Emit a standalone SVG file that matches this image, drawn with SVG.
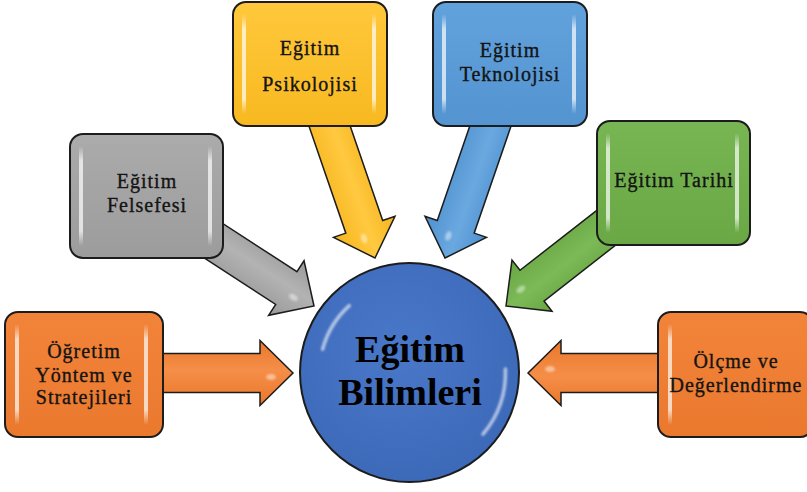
<svg xmlns="http://www.w3.org/2000/svg" xmlns:xlink="http://www.w3.org/1999/xlink" width="807" height="492" viewBox="0 0 807 492">
<defs>
<style>
.box{stroke:#1c1c1c;stroke-width:2}
.hl{fill:url(#hlg)}
.t{font-family:"Liberation Serif","Times New Roman",serif;font-size:20px;letter-spacing:1px;fill:#141414;stroke:#141414;stroke-width:.35;text-anchor:middle}
.big{font-family:"Liberation Serif","Times New Roman",serif;font-size:38px;font-weight:bold;fill:#000;text-anchor:middle}
.arr{stroke:#1c1c1c;stroke-width:1.5;stroke-linejoin:miter}
.gl{fill:none;stroke:#fff;stroke-opacity:.6;stroke-width:3.5;stroke-linecap:round;filter:url(#soft)}
</style>
<filter id="soft" x="-20%" y="-20%" width="140%" height="140%"><feGaussianBlur stdDeviation="0.8"/></filter>
<linearGradient id="hlg" x1="0" y1="0" x2="0" y2="1">
<stop offset="0" stop-color="#fff" stop-opacity="0"/>
<stop offset=".15" stop-color="#fff" stop-opacity=".7"/>
<stop offset=".85" stop-color="#fff" stop-opacity=".7"/>
<stop offset="1" stop-color="#fff" stop-opacity="0"/>
</linearGradient>
<linearGradient id="bY" x1="0" y1="0" x2="0" y2="1"><stop offset="0" stop-color="#FFC83C"/><stop offset="1" stop-color="#F8B920"/></linearGradient>
<linearGradient id="bG" x1="0" y1="0" x2="0" y2="1"><stop offset="0" stop-color="#ABABAB"/><stop offset="1" stop-color="#9C9C9C"/></linearGradient>
<linearGradient id="bB" x1="0" y1="0" x2="0" y2="1"><stop offset="0" stop-color="#62A2DC"/><stop offset="1" stop-color="#5394D1"/></linearGradient>
<linearGradient id="bN" x1="0" y1="0" x2="0" y2="1"><stop offset="0" stop-color="#78B553"/><stop offset="1" stop-color="#69A844"/></linearGradient>
<linearGradient id="bO" x1="0" y1="0" x2="0" y2="1"><stop offset="0" stop-color="#F2843A"/><stop offset="1" stop-color="#EA792E"/></linearGradient>
<linearGradient id="aY" x1="0" y1="0" x2="0" y2="1"><stop offset="0" stop-color="#F6B41C"/><stop offset=".45" stop-color="#FFC940"/><stop offset="1" stop-color="#F6B41C"/></linearGradient>
<linearGradient id="aG" x1="0" y1="0" x2="0" y2="1"><stop offset="0" stop-color="#999"/><stop offset=".45" stop-color="#B3B3B3"/><stop offset="1" stop-color="#999"/></linearGradient>
<linearGradient id="aB" x1="0" y1="0" x2="0" y2="1"><stop offset="0" stop-color="#4E90CE"/><stop offset=".45" stop-color="#6AA8E0"/><stop offset="1" stop-color="#4E90CE"/></linearGradient>
<linearGradient id="aN" x1="0" y1="0" x2="0" y2="1"><stop offset="0" stop-color="#66A642"/><stop offset=".45" stop-color="#7CBA58"/><stop offset="1" stop-color="#66A642"/></linearGradient>
<linearGradient id="aO" x1="0" y1="0" x2="0" y2="1"><stop offset="0" stop-color="#EA772B"/><stop offset=".45" stop-color="#F58E48"/><stop offset="1" stop-color="#EA772B"/></linearGradient>
<radialGradient id="cB" cx=".45" cy=".4" r=".6"><stop offset="0" stop-color="#4A78C8"/><stop offset="1" stop-color="#3D69B9"/></radialGradient>
<g id="arrow">
<path class="arr" d="M0,0 L-33,-32.5 L-33,-19.5 L-150,-19.5 L-150,19.5 L-33,19.5 L-33,32.5 Z"/>
<ellipse cx="-22" cy="4" rx="5" ry="3" fill="#fff" fill-opacity=".45" filter="url(#soft)"/>
</g>
</defs>
<rect width="807" height="492" fill="#fff"/>
<g id="connectors">
<use xlink:href="#arrow" fill="url(#aY)" transform="translate(375,258) rotate(71)"/>
<use xlink:href="#arrow" fill="url(#aB)" transform="translate(445,258) rotate(109)"/>
<use xlink:href="#arrow" fill="url(#aG)" transform="translate(314,306) rotate(33)"/>
<use xlink:href="#arrow" fill="url(#aN)" transform="translate(506,306) rotate(142)"/>
<use xlink:href="#arrow" fill="url(#aO)" transform="translate(293,373)"/>
<use xlink:href="#arrow" fill="url(#aO)" transform="translate(528,373) rotate(180)"/>
</g>
<g id="psikoloji">
<rect class="box" x="233" y="2" width="154" height="124" rx="13" fill="url(#bY)"/>
<rect class="hl" x="242" y="14" width="4" height="100"/>
<rect class="hl" x="372" y="14" width="4" height="100"/>
<text class="t" x="310" y="55">Eğitim</text>
<text class="t" x="310" y="91">Psikolojisi</text>
</g>
<g id="teknoloji">
<rect class="box" x="433" y="2" width="154" height="124" rx="13" fill="url(#bB)"/>
<rect class="hl" x="442" y="14" width="4" height="100"/>
<rect class="hl" x="572" y="14" width="4" height="100"/>
<text class="t" x="510" y="57">Eğitim</text>
<text class="t" x="510" y="81">Teknolojisi</text>
</g>
<g id="felsefe">
<rect class="box" x="70" y="134" width="153" height="124" rx="13" fill="url(#bG)"/>
<rect class="hl" x="79" y="146" width="4" height="100"/>
<rect class="hl" x="208" y="146" width="4" height="100"/>
<text class="t" x="147" y="188">Eğitim</text>
<text class="t" x="147" y="212">Felsefesi</text>
</g>
<g id="tarih">
<rect class="box" x="597" y="121" width="153" height="124" rx="13" fill="url(#bN)"/>
<rect class="hl" x="606" y="133" width="4" height="100"/>
<rect class="hl" x="735" y="133" width="4" height="100"/>
<text class="t" x="674" y="187">Eğitim Tarihi</text>
</g>
<g id="ogretim">
<rect class="box" x="5" y="312" width="158" height="125" rx="13" fill="url(#bO)"/>
<rect class="hl" x="15" y="324" width="4" height="101"/>
<rect class="hl" x="144" y="324" width="4" height="101"/>
<text class="t" x="84" y="358">Öğretim</text>
<text class="t" x="84" y="382">Yöntem ve</text>
<text class="t" x="84" y="404">Stratejileri</text>
</g>
<g id="olcme">
<rect class="box" x="658" y="312" width="155" height="125" rx="13" fill="url(#bO)"/>
<rect class="hl" x="668" y="324" width="4" height="101"/>
<text class="t" x="736" y="368">Ölçme ve</text>
<text class="t" x="736" y="392">Değerlendirme</text>
</g>
<g id="bilimler">
<circle cx="409.5" cy="372.5" r="109.5" fill="url(#cB)" stroke="#1c1c1c" stroke-width="2"/>
<path class="gl" d="M322.6,349.2 A90,90 0 0 1 349.3,305.6"/>
<path class="gl" d="M505.4,369.1 A96,96 0 0 1 483,434.2"/>
<text class="big" x="410" y="362">Eğitim</text>
<text class="big" x="410" y="405">Bilimleri</text>
</g>
</svg>
